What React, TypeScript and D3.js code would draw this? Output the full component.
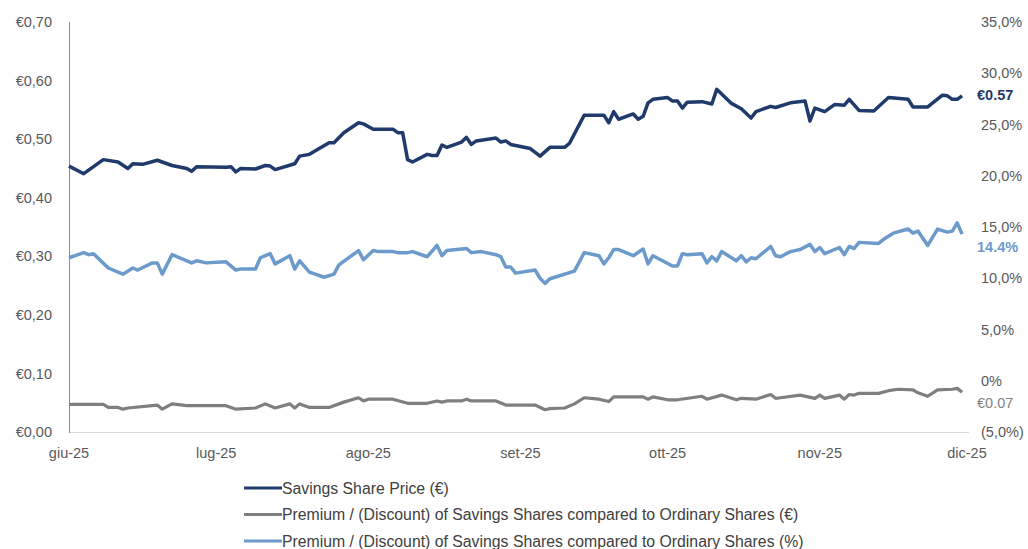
import React, { useEffect, useRef } from "react";
import * as d3 from "d3";

// values (dates 2025, MM-DD)
const priceData: [string, number][] = [
  ["06-01", 0.454], ["06-04", 0.441], ["06-08", 0.465], ["06-11", 0.461], ["06-13", 0.45],
  ["06-14", 0.458], ["06-16", 0.457], ["06-19", 0.464], ["06-20", 0.461], ["06-22", 0.455],
  ["06-25", 0.45], ["06-26", 0.445], ["06-27", 0.453], ["07-03", 0.452], ["07-04", 0.453],
  ["07-05", 0.444], ["07-06", 0.45], ["07-09", 0.449], ["07-11", 0.455], ["07-12", 0.454],
  ["07-13", 0.448], ["07-17", 0.458], ["07-18", 0.471], ["07-20", 0.474], ["07-24", 0.494],
  ["07-25", 0.494], ["07-27", 0.511], ["07-30", 0.528], ["07-31", 0.526], ["08-02", 0.517],
  ["08-06", 0.517], ["08-07", 0.511], ["08-08", 0.511], ["08-09", 0.465], ["08-10", 0.461],
  ["08-13", 0.474], ["08-14", 0.472], ["08-15", 0.472], ["08-16", 0.49], ["08-17", 0.486],
  ["08-20", 0.495], ["08-21", 0.503], ["08-22", 0.491], ["08-23", 0.497], ["08-27", 0.502],
  ["08-28", 0.495], ["08-29", 0.497], ["08-30", 0.491], ["09-03", 0.484], ["09-05", 0.471],
  ["09-07", 0.486], ["09-10", 0.486], ["09-11", 0.493], ["09-14", 0.541], ["09-18", 0.541],
  ["09-19", 0.528], ["09-20", 0.547], ["09-21", 0.534], ["09-24", 0.543], ["09-25", 0.534],
  ["09-26", 0.539], ["09-27", 0.562], ["09-28", 0.568], ["10-01", 0.571], ["10-02", 0.565],
  ["10-03", 0.565], ["10-04", 0.553], ["10-05", 0.563], ["10-08", 0.564], ["10-10", 0.56],
  ["10-11", 0.585], ["10-14", 0.561], ["10-16", 0.552], ["10-18", 0.536], ["10-19", 0.547],
  ["10-22", 0.556], ["10-23", 0.554], ["10-26", 0.562], ["10-29", 0.565], ["10-30", 0.531],
  ["10-31", 0.553], ["11-02", 0.547], ["11-04", 0.559], ["11-06", 0.558], ["11-07", 0.568],
  ["11-09", 0.549], ["11-12", 0.548], ["11-15", 0.571], ["11-19", 0.568], ["11-20", 0.555],
  ["11-23", 0.555], ["11-26", 0.575], ["11-27", 0.574], ["11-28", 0.568], ["11-29", 0.568],
  ["11-30", 0.574],
];

const premiumEurData: [string, number][] = [
  ["06-01", 0.047], ["06-08", 0.047], ["06-09", 0.042], ["06-11", 0.042], ["06-12", 0.039],
  ["06-13", 0.041], ["06-19", 0.046], ["06-20", 0.039], ["06-22", 0.048], ["06-25", 0.045],
  ["07-03", 0.045], ["07-05", 0.039], ["07-09", 0.041], ["07-11", 0.048], ["07-13", 0.041],
  ["07-16", 0.048], ["07-17", 0.041], ["07-18", 0.048], ["07-20", 0.042], ["07-24", 0.042],
  ["07-27", 0.051], ["07-30", 0.0585], ["07-31", 0.053], ["08-01", 0.056], ["08-06", 0.056],
  ["08-09", 0.049], ["08-13", 0.049], ["08-15", 0.053], ["08-16", 0.051], ["08-17", 0.053],
  ["08-20", 0.053], ["08-21", 0.056], ["08-22", 0.053], ["08-27", 0.053], ["08-29", 0.046],
  ["09-04", 0.046], ["09-06", 0.038], ["09-07", 0.04], ["09-10", 0.041], ["09-12", 0.048],
  ["09-14", 0.0585], ["09-17", 0.056], ["09-19", 0.052], ["09-20", 0.06], ["09-26", 0.06],
  ["09-27", 0.056], ["09-28", 0.06], ["10-01", 0.055], ["10-03", 0.055], ["10-08", 0.061],
  ["10-09", 0.056], ["10-12", 0.063], ["10-15", 0.055], ["10-16", 0.0575], ["10-19", 0.056],
  ["10-22", 0.064], ["10-23", 0.0575], ["10-24", 0.0585], ["10-28", 0.063], ["10-31", 0.0575],
  ["11-01", 0.063], ["11-02", 0.0575], ["11-05", 0.063], ["11-06", 0.056], ["11-07", 0.064],
  ["11-08", 0.063], ["11-09", 0.066], ["11-13", 0.066], ["11-15", 0.0705], ["11-17", 0.073],
  ["11-20", 0.072], ["11-21", 0.067], ["11-23", 0.061], ["11-25", 0.072], ["11-28", 0.073],
  ["11-29", 0.0745], ["11-30", 0.068],
];

const premiumPctData: [string, number][] = [
  ["06-01", 12.0], ["06-04", 12.5], ["06-05", 12.3], ["06-06", 12.4], ["06-09", 11.0],
  ["06-12", 10.4], ["06-14", 11.0], ["06-15", 10.8], ["06-18", 11.5], ["06-19", 11.5],
  ["06-20", 10.4], ["06-22", 12.3], ["06-26", 11.5], ["06-27", 11.7], ["06-29", 11.5],
  ["07-03", 11.6], ["07-05", 10.8], ["07-06", 10.9], ["07-09", 10.9], ["07-10", 12.0],
  ["07-12", 12.4], ["07-13", 11.4], ["07-16", 12.2], ["07-17", 10.9], ["07-18", 11.7],
  ["07-20", 10.6], ["07-23", 10.1], ["07-25", 10.4], ["07-26", 11.3], ["07-30", 12.7],
  ["07-31", 11.8], ["08-02", 12.7], ["08-03", 12.6], ["08-06", 12.6], ["08-07", 12.5],
  ["08-09", 12.5], ["08-10", 12.6], ["08-13", 12.1], ["08-15", 13.2], ["08-16", 12.2],
  ["08-17", 12.7], ["08-21", 12.9], ["08-22", 12.5], ["08-24", 12.6], ["08-27", 12.3],
  ["08-28", 12.1], ["08-29", 11.1], ["08-30", 11.1], ["08-31", 10.5], ["09-04", 10.8],
  ["09-05", 10.0], ["09-06", 9.5], ["09-07", 9.95], ["09-12", 10.7], ["09-14", 12.5],
  ["09-17", 12.2], ["09-18", 11.4], ["09-19", 12.0], ["09-20", 12.8], ["09-21", 12.8],
  ["09-24", 12.2], ["09-26", 12.85], ["09-27", 11.4], ["09-28", 12.2], ["10-02", 11.2],
  ["10-03", 11.2], ["10-04", 12.4], ["10-05", 12.3], ["10-08", 12.4], ["10-09", 11.5],
  ["10-10", 12.1], ["10-11", 11.7], ["10-12", 12.6], ["10-15", 11.7], ["10-16", 12.2],
  ["10-17", 11.6], ["10-18", 12.0], ["10-19", 11.9], ["10-22", 13.1], ["10-23", 12.2],
  ["10-24", 12.1], ["10-26", 12.6], ["10-28", 12.8], ["10-30", 13.3], ["10-31", 12.6],
  ["11-01", 13.0], ["11-02", 12.4], ["11-05", 13.0], ["11-06", 12.3], ["11-07", 13.1],
  ["11-08", 12.9], ["11-09", 13.5], ["11-13", 13.4], ["11-14", 13.8], ["11-16", 14.4],
  ["11-19", 14.8], ["11-20", 14.4], ["11-21", 14.6], ["11-23", 13.2], ["11-25", 14.8],
  ["11-27", 14.5], ["11-28", 14.6], ["11-29", 15.4], ["11-30", 14.3],
];

const leftTicks = [0, 0.1, 0.2, 0.3, 0.4, 0.5, 0.6, 0.7];
const rightTicks = [-5, 0, 5, 10, 15, 20, 25, 30, 35];
const monthLabels = ["giu-25", "lug-25", "ago-25", "set-25", "ott-25", "nov-25", "dic-25"];
const endLabels = ["€0.57", "€0.07", "14.4%"];
const legendLabels = [
  "Savings Share Price (€)",
  "Premium / (Discount) of Savings Shares compared to Ordinary Shares (€)",
  "Premium / (Discount) of Savings Shares compared to Ordinary Shares (%)",
];

const navy = "#1f3a6b";
const grey = "#7f7f7f";
const lightBlue = "#6c9acb";
const font = "'Liberation Sans', Arial, sans-serif";

const parse = (s: string) => new Date(2025, +s.slice(0, 2) - 1, +s.slice(3, 5));

const App = () => {
  const ref = useRef<SVGSVGElement | null>(null);

  useEffect(() => {
    if (ref.current) drawChart(ref.current);
  }, []);

  return (
    <div style={{ position: "fixed", left: 0, top: 0, width: 1028, height: 549, background: "#fff" }}>
      <svg ref={ref} width={1028} height={549} style={{ display: "block" }} />
    </div>
  );
};

function drawChart(el: SVGSVGElement) {
  const svg = d3.select(el);
  svg.selectAll("*").remove();

  const left = 69;
  const right = 967;
  const top = 22;
  const bottom = 432;

  const x = d3
    .scaleTime()
    .domain([new Date(2025, 5, 1), new Date(2025, 11, 1)])
    .range([left, right]);
  const yL = d3.scaleLinear().domain([0, 0.7]).range([bottom, top]);
  const yR = d3.scaleLinear().domain([-5, 35]).range([bottom, top]);

  // axes lines
  svg
    .append("line")
    .attr("x1", left)
    .attr("x2", right + 2)
    .attr("y1", bottom + 0.5)
    .attr("y2", bottom + 0.5)
    .attr("stroke", "#d9d9d9")
    .attr("stroke-width", 1);
  svg
    .append("line")
    .attr("x1", left + 0.5)
    .attr("x2", left + 0.5)
    .attr("y1", top)
    .attr("y2", bottom + 1)
    .attr("stroke", "#8c8c8c")
    .attr("stroke-width", 1);

  // left tick labels
  svg
    .selectAll(".lt")
    .data(leftTicks)
    .enter()
    .append("text")
    .attr("x", 52)
    .attr("y", (d) => yL(d))
    .attr("dy", "0.35em")
    .attr("text-anchor", "end")
    .attr("font-family", font)
    .attr("font-size", 14.5)
    .attr("fill", "#595959")
    .text((d) => "€" + d3.format(".2f")(d).replace(".", ","));

  // right tick labels
  const pctFmt = (d: number) => {
    if (d === 0) return "0%";
    const s = d3.format(".1f")(Math.abs(d)).replace(".", ",") + "%";
    return d < 0 ? `(${s})` : s;
  };
  svg
    .selectAll(".rt")
    .data(rightTicks)
    .enter()
    .append("text")
    .attr("x", 981)
    .attr("y", (d) => yR(d))
    .attr("dy", "0.35em")
    .attr("font-family", font)
    .attr("font-size", 14.5)
    .attr("fill", "#595959")
    .text(pctFmt);

  // month labels
  const months = d3.timeMonth.range(new Date(2025, 5, 1), new Date(2025, 11, 2));
  svg
    .selectAll(".mt")
    .data(months)
    .enter()
    .append("text")
    .attr("x", (d) => x(d))
    .attr("y", 453)
    .attr("dy", "0.35em")
    .attr("text-anchor", "middle")
    .attr("font-family", font)
    .attr("font-size", 14.5)
    .attr("fill", "#595959")
    .text((_, i) => monthLabels[i]);

  const lineL = d3
    .line<[string, number]>()
    .x((d) => x(parse(d[0])))
    .y((d) => yL(d[1]));
  const lineR = d3
    .line<[string, number]>()
    .x((d) => x(parse(d[0])))
    .y((d) => yR(d[1]));

  svg
    .append("path")
    .datum(premiumEurData)
    .attr("fill", "none")
    .attr("stroke", grey)
    .attr("stroke-width", 3.2)
    .attr("stroke-linejoin", "round")
    .attr("d", lineL);

  svg
    .append("path")
    .datum(premiumPctData)
    .attr("fill", "none")
    .attr("stroke", lightBlue)
    .attr("stroke-width", 3.5)
    .attr("stroke-linejoin", "round")
    .attr("d", lineR);

  svg
    .append("path")
    .datum(priceData)
    .attr("fill", "none")
    .attr("stroke", navy)
    .attr("stroke-width", 3.5)
    .attr("stroke-linejoin", "round")
    .attr("d", lineL);

  // end labels
  const lastPrice = priceData[priceData.length - 1];
  const lastEur = premiumEurData[premiumEurData.length - 1];
  const lastPct = premiumPctData[premiumPctData.length - 1];
  const ends = [
    { text: endLabels[0], y: yL(lastPrice[1]), dy: -1, color: navy, weight: "bold" },
    { text: endLabels[1], y: yL(lastEur[1]), dy: 11, color: grey, weight: "normal" },
    { text: endLabels[2], y: yR(lastPct[1]), dy: 13, color: lightBlue, weight: "bold" },
  ];
  svg
    .selectAll(".end")
    .data(ends)
    .enter()
    .append("text")
    .attr("x", 977)
    .attr("y", (d) => d.y + d.dy)
    .attr("dy", "0.35em")
    .attr("font-family", font)
    .attr("font-size", 14.5)
    .attr("font-weight", (d) => d.weight)
    .attr("fill", (d) => d.color)
    .text((d) => d.text);

  // legend
  const legendColors = [navy, grey, lightBlue];
  const legend = svg
    .selectAll(".lg")
    .data(legendLabels)
    .enter()
    .append("g")
    .attr("transform", (_, i) => `translate(244,${488 + i * 26.5})`);
  legend
    .append("line")
    .attr("x1", 0)
    .attr("x2", 38)
    .attr("stroke", (_, i) => legendColors[i])
    .attr("stroke-width", 3);
  legend
    .append("text")
    .attr("x", 38)
    .attr("dy", "0.35em")
    .attr("font-family", font)
    .attr("font-size", 15.8)
    .attr("fill", "#404040")
    .text((d) => d);
}

export default App;
